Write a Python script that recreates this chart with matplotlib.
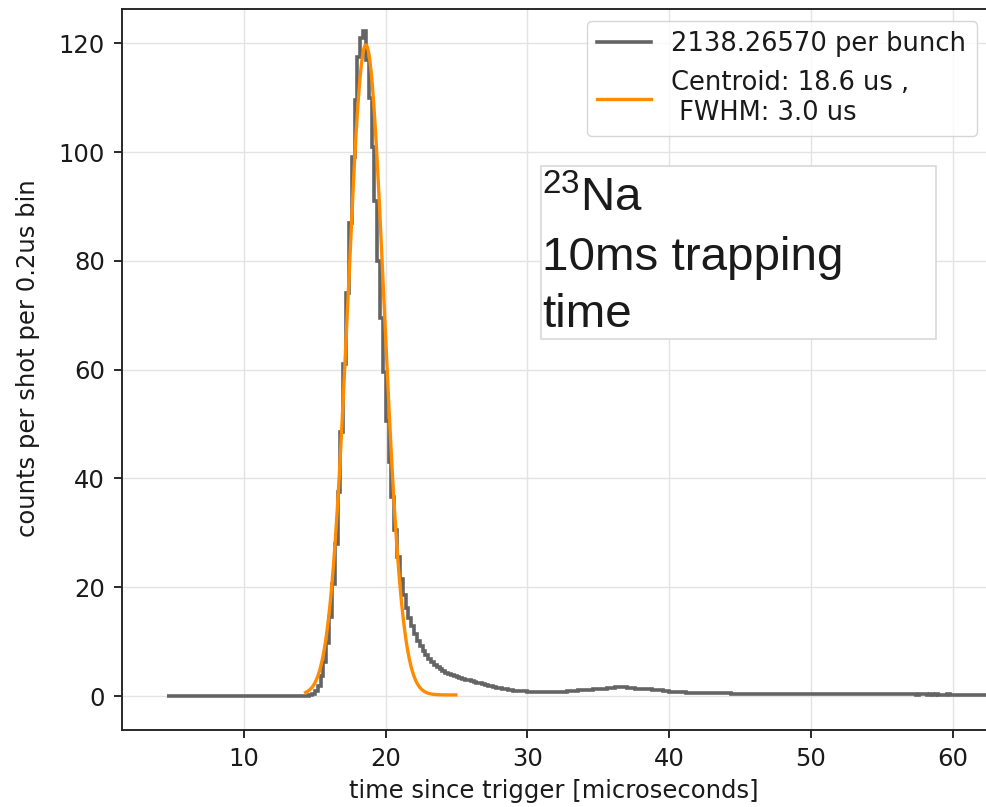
import numpy as np
import matplotlib
matplotlib.use("Agg")
import matplotlib.pyplot as plt
from matplotlib.patches import Rectangle

# ---- histogram of arrival times (counts per shot per 0.2 us bin) ----
bin_start = 4.6
bin_width = 0.2
counts = [
    0, 0, 0, 0, 0, 0, 0, 0, 0, 0,
    0, 0, 0, 0, 0, 0, 0, 0, 0, 0,
    0, 0, 0, 0, 0, 0, 0, 0, 0, 0,
    0, 0, 0, 0, 0, 0, 0, 0, 0, 0,
    0, 0, 0, 0, 0, 0, 0, 0, 0, 0,
    0.2, 0.4, 0.9, 1.9, 3.6, 6.2, 9.8, 14.5, 20.5, 28.0,
    37.5, 48.5, 61.0, 74.0, 87.0, 99.0, 109.5, 117.5, 121.0, 122.3,
    117.0, 110.0, 101.0, 91.0, 80.0, 69.5, 59.5, 50.5, 43.0, 36.5,
    30.5, 25.5, 21.5, 18.5, 16.2, 14.4, 12.8, 11.4, 10.2, 9.2,
    8.3, 7.5, 6.8, 6.2, 5.7, 5.3, 4.9, 4.6, 4.3, 4.1,
    3.9, 3.7, 3.5, 3.3, 3.2, 3.0, 2.9, 2.7, 2.6, 2.4,
    2.3, 2.2, 2.0, 1.9, 1.8, 1.7, 1.55, 1.45, 1.35, 1.25,
    1.15, 1.1, 1.0, 0.95, 0.9, 0.88, 0.85, 0.8, 0.78, 0.75,
    0.72, 0.7, 0.7, 0.68, 0.68, 0.7, 0.7, 0.72, 0.75, 0.78,
    0.8, 0.85, 0.88, 0.92, 0.98, 1.02, 1.05, 1.1, 1.12, 1.15,
    1.2, 1.22, 1.25, 1.3, 1.35, 1.4, 1.5, 1.55, 1.6, 1.62,
    1.6, 1.58, 1.55, 1.5, 1.45, 1.35, 1.3, 1.32, 1.28, 1.25,
    1.2, 1.12, 1.1, 1.05, 1.02, 0.95, 0.88, 0.82, 0.78, 0.75,
    0.72, 0.70, 0.66, 0.64, 0.62, 0.60, 0.58, 0.57, 0.56, 0.55,
    0.54, 0.52, 0.53, 0.50, 0.49, 0.50, 0.48, 0.47, 0.48, 0.46,
    0.45, 0.46, 0.44, 0.45, 0.43, 0.44, 0.42, 0.43, 0.41, 0.42,
    0.40, 0.41, 0.39, 0.40, 0.41, 0.38, 0.39, 0.38, 0.40, 0.37,
    0.38, 0.36, 0.38, 0.37, 0.35, 0.37, 0.36, 0.37, 0.35, 0.36,
    0.34, 0.36, 0.35, 0.33, 0.35, 0.34, 0.33, 0.34, 0.32, 0.34,
    0.33, 0.31, 0.33, 0.32, 0.33, 0.31, 0.32, 0.31, 0.32, 0.30,
    0.31, 0.32, 0.30, 0.29, 0.31, 0.30, 0.29, 0.30, 0.29, 0.28,
    0.30, 0.29, 0.28, 0.29, 0.27, 0.28, 0.29, 0.28, 0.27, 0.28,
    0.26, 0.28, 0.27, 0.26, 0.27, 0.28, 0.26, 0.27, 0.26, 0.25,
    0.27, 0.26, 0.25, 0.26, 0.24, 0.26, 0.25, 0.25, 0.24, 0.26,
    0.25, 0.24,
]
ions_per_bunch = 2138.26570

# ---- Gaussian fit result ----
fit_amplitude = 119.5
fit_centroid = 18.6
fit_fwhm = 3.0
fit_offset = 0.2
fit_range = (14.35, 24.95)

edges = bin_start + bin_width * np.arange(len(counts) + 1)
sigma = fit_fwhm / (2 * np.sqrt(2 * np.log(2)))
xf = np.linspace(fit_range[0], fit_range[1], 400)
yf = fit_offset + fit_amplitude * np.exp(-(xf - fit_centroid) ** 2 / (2 * sigma ** 2))

fs = 17.5
plt.rcParams["font.family"] = ["DejaVu Sans"]

W, H = 986, 807
fig = plt.figure(figsize=(W / 100, H / 100), dpi=100)

ax_l, ax_r, ax_t, ax_b = 121.7, 988.0, 9.0, 730.0
ax = fig.add_axes([ax_l / W, 1 - ax_b / H, (ax_r - ax_l) / W, (ax_b - ax_t) / H])

ax.stairs(counts, edges, baseline=None, color="#646464", lw=2.6,
          label=f"{ions_per_bunch:.5f} per bunch")
ax.plot(xf, yf, color="#ff8c00", lw=2.4,
        label=f"Centroid: {fit_centroid:.1f} us ,\n FWHM: {fit_fwhm:.1f} us")

ax.set_xlim(1.37, 62.5)
ax.set_ylim(-6.25, 126.3)
ax.set_xticks([10, 20, 30, 40, 50, 60])
ax.set_yticks([0, 20, 40, 60, 80, 100, 120])
ax.grid(True, color="#e3e3e3", lw=1.0)
ax.set_axisbelow(True)
ax.tick_params(labelsize=fs, length=6, width=1.36, pad=6, color="#222222",
               labelcolor="#1a1a1a")
for s in ax.spines.values():
    s.set_linewidth(1.36)
    s.set_color("#222222")

ax.set_xlabel("time since trigger [microseconds]", fontsize=fs, color="#1a1a1a")
ax.set_ylabel("counts per shot per 0.2us bin", fontsize=fs, color="#1a1a1a")
ax.xaxis.set_label_coords((554 - ax_l) / (ax_r - ax_l), -0.068)
ax.yaxis.set_label_coords((40 - ax_l) / (ax_r - ax_l), (ax_b - 358) / (ax_b - ax_t))

leg = ax.legend(loc="upper right", bbox_to_anchor=(976.7 / W, 1 - 21 / H),
                bbox_transform=fig.transFigure, borderaxespad=0, fontsize=18.5,
                handlelength=2.1, framealpha=0.8, edgecolor="#cccccc")
for t in leg.get_texts():
    t.set_color("#1a1a1a")

# annotation box with isotope and trapping time
bx0, bx1, by0, by1 = 540.7, 936.0, 165.7, 339.3
fig.patches.append(Rectangle((bx0 / W, 1 - by1 / H), (bx1 - bx0) / W, (by1 - by0) / H,
                             transform=fig.transFigure, facecolor="white",
                             edgecolor="#d4d4d4", lw=1.1, zorder=5))
tfont = dict(family="Liberation Sans", size=34.2, color="#1a1a1a", zorder=6,
             ha="left", va="baseline")
fig.text(541.5 / W, 1 - 211.7 / H, r"$\mathregular{^{23}}$Na", **tfont)
fig.text(542.5 / W, 1 - 270.0 / H, "10ms trapping", **tfont)
fig.text(542.5 / W, 1 - 326.7 / H, "time", **tfont)

fig.savefig("out.png", dpi=100)
